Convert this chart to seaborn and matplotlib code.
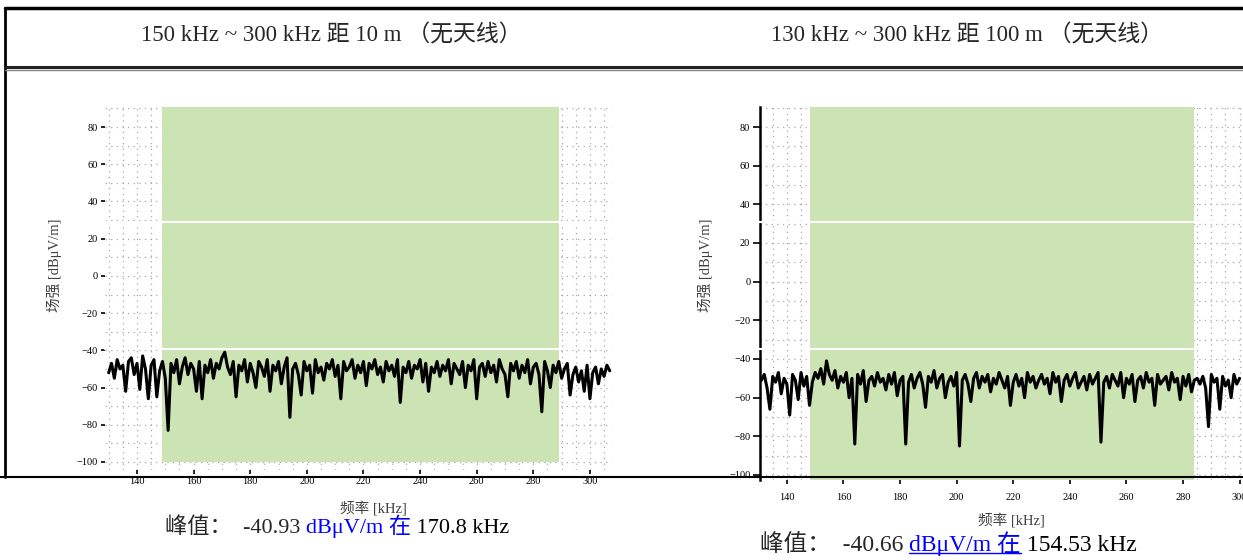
import numpy as np
import pandas as pd
import matplotlib
matplotlib.use("Agg")
import matplotlib.pyplot as plt
from matplotlib.lines import Line2D
from matplotlib.ticker import MultipleLocator
import seaborn as sns

# ---- data (1 kHz steps) ----
FREQ_START_LEFT = 130
LEVEL_LEFT = [
    -52, -47, -55, -45, -50, -48, -62, -46, -44, -53,
    -47, -61, -43, -50, -66, -48, -45, -65, -51, -46,
    -55, -83, -47, -52, -45, -58, -49, -44, -53, -47,
    -50, -62, -46, -66, -48, -52, -45, -55, -47, -50,
    -44, -41, -49, -53, -46, -65, -48, -51, -45, -57,
    -47, -52, -60, -46, -49, -54, -45, -62, -48, -51,
    -46, -58, -49, -44, -76, -50, -47, -53, -64, -46,
    -51, -48, -63, -45, -52, -49, -56, -47, -50, -45,
    -54, -48, -66, -46, -51, -49, -45, -55, -48, -52,
    -46, -59, -47, -50, -45, -53, -49, -57, -46, -51,
    -48, -54, -45, -68, -49, -52, -46, -55, -48, -50,
    -45, -57, -47, -62, -49, -52, -46, -54, -48, -51,
    -45, -58, -47, -50, -53, -46, -60, -48, -51, -45,
    -66, -49, -47, -54, -46, -52, -48, -57, -45, -50,
    -53, -65, -47, -51, -46, -55, -48, -52, -45, -58,
    -49, -47, -53, -73, -46, -51, -60, -48, -52, -46,
    -55, -50, -47, -64, -53, -49, -57, -51, -62, -48,
    -66, -52, -49, -58, -50, -54, -48, -51,
]

FREQ_START_RIGHT = 131
LEVEL_RIGHT = [
    -51, -48, -55, -66, -49, -52, -47, -58, -50, -53,
    -69, -48, -51, -61, -47, -54, -49, -64, -52, -47,
    -50, -45, -53, -41, -48, -51, -46, -55, -49, -52,
    -47, -60, -50, -84, -48, -53, -46, -62, -51, -49,
    -54, -47, -52, -50, -56, -48, -53, -47, -59, -51,
    -49, -84, -52, -48, -55, -50, -47, -53, -65, -49,
    -52, -46, -55, -50, -48, -60, -52, -49, -54, -47,
    -85, -51, -48, -53, -62, -50, -47, -55, -49, -52,
    -48, -57, -50, -53, -47, -51, -55, -49, -64, -52,
    -48, -54, -50, -60, -47, -52, -49, -55, -51, -48,
    -53, -50, -58, -47, -52, -49, -62, -51, -48, -54,
    -50, -47, -55, -52, -49, -56, -48, -53, -50, -47,
    -83, -52, -49, -55, -48, -51, -54, -47, -60, -50,
    -53, -48, -62, -51, -49, -55, -47, -52, -50, -64,
    -48, -53, -51, -49, -56, -47, -52, -50, -61, -49,
    -54, -48, -57, -51, -50, -53, -49, -55, -75, -48,
    -52, -50, -66, -49, -54, -51, -60, -48, -53, -50,
]

TITLE_LEFT = "150 kHz ~ 300 kHz 距 10 m （无天线）"
TITLE_RIGHT = "130 kHz ~ 300 kHz 距 100 m （无天线）"
Y_TICKS = [80, 60, 40, 20, 0, -20, -40, -60, -80, -100]
X_TICKS = [140, 160, 180, 200, 220, 240, 260, 280, 300]
BAND_LEFT = [149, 289]
BAND_RIGHT = [148, 284]
PEAK_LEFT = ["-40.93", "170.8"]
PEAK_RIGHT = ["-40.66", "154.53"]

GREEN = "#cce3b4"
W, H = 1243, 560


def px_rect(x0, y0, x1, y1):
    return [x0 / W, 1 - y1 / H, (x1 - x0) / W, (y1 - y0) / H]


def fig_line(fig, xs, ys, **kw):
    fig.add_artist(Line2D([x / W for x in xs], [1 - y / H for y in ys], **kw))


sns.set_theme(style="white")
plt.rcParams["font.family"] = ["Liberation Serif", "Noto Sans CJK SC", "DejaVu Sans"]

df_left = pd.DataFrame({"freq": np.arange(FREQ_START_LEFT, FREQ_START_LEFT + len(LEVEL_LEFT)),
                        "level": LEVEL_LEFT})
df_right = pd.DataFrame({"freq": np.arange(FREQ_START_RIGHT, FREQ_START_RIGHT + len(LEVEL_RIGHT)),
                         "level": LEVEL_RIGHT})

fig = plt.figure(figsize=(12.43, 5.6), dpi=100)
ax_l = fig.add_axes(px_rect(105, 107, 612, 470))
ax_r = fig.add_axes(px_rect(760, 107, 1243, 480))


def draw_panel(ax, df, xlim, ylim, band, band_bottom):
    ax.set_xlim(*xlim)
    ax.set_ylim(*ylim)
    ax.set_xticks(X_TICKS)
    ax.set_yticks(Y_TICKS)
    ax.xaxis.set_minor_locator(MultipleLocator(5))
    ax.yaxis.set_minor_locator(MultipleLocator(10))
    ax.set_axisbelow(True)
    ax.grid(which="both", color="#a8a8a8", linestyle=(0, (1, 3.5)), linewidth=0.9)
    ax.fill_between(band, band_bottom, ylim[1], color=GREEN, linewidth=0, zorder=1)
    sns.lineplot(data=df, x="freq", y="level", ax=ax, color="black", linewidth=2.2,
                 estimator=None, zorder=3)
    ax.tick_params(axis="both", which="major", bottom=True, left=True, length=3,
                   width=1.2, color="black", labelsize=7.5, pad=2, labelcolor="black")
    ax.tick_params(which="minor", length=0)
    for s in ax.spines.values():
        s.set_visible(False)
    ax.patch.set_alpha(0)


draw_panel(ax_l, df_left, (128.7, 307.8), (-104.3, 90.75), BAND_LEFT, -100)
draw_panel(ax_r, df_right, (130.5, 301.2), (-102.6, 90.35), BAND_RIGHT, -102.6)
ax_r.spines["left"].set_visible(True)
ax_r.spines["left"].set_color("black")
ax_r.spines["left"].set_linewidth(1.8)
ax_r.tick_params(axis="x", pad=6)
ax_r.tick_params(axis="y", length=5)

lbl_kw = dict(fontsize=10.5, color="#404040")
ax_l.set_ylabel("场强 [dBμV/m]", **lbl_kw)
ax_l.yaxis.set_label_coords(-0.085, 0.565)
ax_l.set_xlabel("频率 [kHz]", **lbl_kw)
ax_l.xaxis.set_label_coords(0.53, -0.085)
ax_r.set_ylabel("场强 [dBμV/m]", **lbl_kw)
ax_r.yaxis.set_label_coords(-0.097, 0.576)
ax_r.set_xlabel("频率 [kHz]", **lbl_kw)
ax_r.xaxis.set_label_coords(0.52, -0.088)

# titles in the table header
fig.text(331 / W, 1 - 35 / H, TITLE_LEFT, ha="center", va="center", fontsize=16.5)
fig.text(967 / W, 1 - 35 / H, TITLE_RIGHT, ha="center", va="center", fontsize=16.5)

# table borders
fig_line(fig, [5, 1243], [8, 8], color="black", linewidth=2.5)
fig_line(fig, [5, 5], [8, 477], color="black", linewidth=2)
fig_line(fig, [5, 1243], [67, 67], color="#222222", linewidth=2.2)
fig_line(fig, [5, 1243], [70, 70], color="#888888", linewidth=1)
fig_line(fig, [0, 1243], [477, 477], color="black", linewidth=1.5)
# light horizontal gaps across the plot areas
for yy in (222, 349):
    fig_line(fig, [105, 612], [yy, yy], color="white", linewidth=1.5, zorder=10)
    fig_line(fig, [758, 1243], [yy, yy], color="white", linewidth=1.5, zorder=10)


def peak_text(x_px, y_px, value, freq, size, underline):
    t1 = fig.text(x_px / W, 1 - y_px / H, f"峰值：  {value} ", fontsize=size,
                  ha="left", va="center")
    t2 = ax_l.annotate("dBμV/m 在", xy=(1, 0), xycoords=t1, ha="left", va="bottom",
                       fontsize=size, color="#0000ff", annotation_clip=False)
    ax_l.annotate(f" {freq} kHz", xy=(1, 0), xycoords=t2, ha="left", va="bottom",
                  fontsize=size, color="black", annotation_clip=False)
    if underline:
        fig.canvas.draw()
        bb = t2.get_window_extent().transformed(fig.transFigure.inverted())
        fig.add_artist(Line2D([bb.x0, bb.x1], [bb.y0 + 0.006, bb.y0 + 0.006],
                              color="#0000ff", linewidth=1))


peak_text(165, 528, PEAK_LEFT[0], PEAK_LEFT[1], 16, False)
peak_text(760, 545, PEAK_RIGHT[0], PEAK_RIGHT[1], 17, True)

fig.savefig("out.png", dpi=100)
